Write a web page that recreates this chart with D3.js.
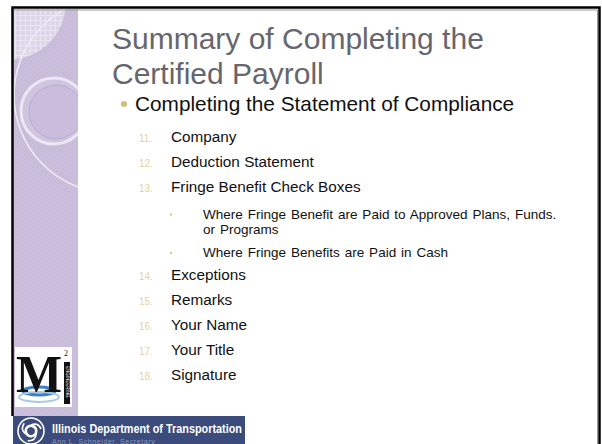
<!DOCTYPE html>
<html>
<head>
<meta charset="utf-8">
<script src="https://cdn.jsdelivr.net/npm/d3@7"></script>
<style>
  body { margin: 0; background: #fff; }
  svg { display: block; font-family: "Liberation Sans", Arial, sans-serif; }
</style>
</head>
<body>
<div id="slide"></div>
<script>
// slide content
const titleLines = ["Summary of Completing the", "Certified Payroll"];
const topBullet = "Completing the Statement of Compliance";
const itemNumbers = ["11.", "12.", "13.", "14.", "15.", "16.", "17.", "18."];
const itemLabels = ["Company", "Deduction Statement", "Fringe Benefit Check Boxes",
  "Exceptions", "Remarks", "Your Name", "Your Title", "Signature"];
// sub bullets hang under item 13, each entry is its wrapped lines
const subBullets = [
  ["Where Fringe Benefit are Paid to Approved Plans, Funds.", "or Programs"],
  ["Where Fringe Benefits are Paid in Cash"]
];
const bannerTitle = "Illinois Department of Transportation";
const bannerSub = "Ann L. Schneider, Secretary";

const W = 602, H = 444;

const svg = d3.select("#slide").append("svg")
  .attr("width", W)
  .attr("height", H);

const defs = svg.append("defs");

// faint checker texture for the side panel
const pat = defs.append("pattern")
  .attr("id", "chk")
  .attr("width", 4).attr("height", 4)
  .attr("patternUnits", "userSpaceOnUse");
pat.append("rect").attr("width", 4).attr("height", 4).attr("fill", "#c7bbd9");
pat.append("rect").attr("width", 2).attr("height", 2).attr("fill", "#cbc0dc");
pat.append("rect").attr("x", 2).attr("y", 2).attr("width", 2).attr("height", 2).attr("fill", "#cbc0dc");

const grid = defs.append("pattern")
  .attr("id", "grid")
  .attr("width", 5).attr("height", 5)
  .attr("patternUnits", "userSpaceOnUse");
grid.append("rect").attr("width", 5).attr("height", 5).attr("fill", "#ddd5e8");
grid.append("path").attr("d", "M0 0.5H5M0.5 0V5")
  .attr("stroke", "#eae5f1").attr("stroke-width", 1);

defs.append("clipPath").attr("id", "panelClip")
  .append("rect").attr("x", 13).attr("y", 9).attr("width", 65).attr("height", 407);

drawPanel();
drawFrame();
drawTitle();
drawList();
drawLogo();
drawBanner();

/**
 * lavender side strip with its circles
 */
function drawPanel() {
  const g = svg.append("g").attr("clip-path", "url(#panelClip)");
  g.append("rect")
    .attr("x", 13).attr("y", 9).attr("width", 65).attr("height", 407)
    .attr("fill", "url(#chk)");
  // textured disc top left
  g.append("circle")
    .attr("cx", 8).attr("cy", 2).attr("r", 58)
    .attr("fill", "url(#grid)");
  // long thin arc
  g.append("circle")
    .attr("cx", 112).attr("cy", 95).attr("r", 98)
    .attr("fill", "none")
    .attr("stroke", "#efeaf5").attr("stroke-width", 1.6);
  // ring
  g.append("circle")
    .attr("cx", 54).attr("cy", 111).attr("r", 33)
    .attr("fill", "#d3c9e2").attr("fill-opacity", 0.6)
    .attr("stroke", "#ece7f3").attr("stroke-width", 3);
  g.append("circle")
    .attr("cx", 56).attr("cy", 112).attr("r", 27)
    .attr("fill", "#c9bddb")
    .attr("stroke", "#b9abd0").attr("stroke-width", 1);
}

function drawFrame() {
  svg.append("path")
    .attr("d", `M12.5 416V7.5H599.5V${H}`)
    .attr("fill", "none")
    .attr("stroke", "#000").attr("stroke-width", 2.5);
  svg.append("path")
    .attr("d", `M14 10H597.5V${H}`)
    .attr("fill", "none")
    .attr("stroke", "#999").attr("stroke-width", 1);
}

function drawTitle() {
  svg.append("g").selectAll("text")
    .data(titleLines)
    .join("text")
    .attr("x", 112)
    .attr("y", (d, i) => 49 + i * 35)
    .attr("font-size", 30)
    .attr("fill", "#66666e")
    .text(d => d);
}

function drawList() {
  const g = svg.append("g");

  g.append("circle")
    .attr("cx", 124).attr("cy", 104).attr("r", 3)
    .attr("fill", "#d1bd7c");
  g.append("text")
    .attr("x", 135).attr("y", 111)
    .attr("font-size", 20.8)
    .attr("fill", "#111")
    .text(topBullet);

  // items 11..13 then a gap for the sub bullets, then 14..18
  const rowY = d3.scaleLinear().domain([0, 1]).range([141.7, 166.7]);
  const itemY = i => i < 3 ? rowY(i) : rowY(i) + 63;

  const rows = g.selectAll("g.item")
    .data(itemLabels.map((t, i) => ({ n: itemNumbers[i], t, i })))
    .join("g").attr("class", "item");
  rows.append("text")
    .attr("x", 139).attr("y", d => itemY(d.i))
    .attr("font-size", 10)
    .attr("fill", "#e5d39c")
    .text(d => d.n);
  rows.append("text")
    .attr("x", 171).attr("y", d => itemY(d.i))
    .attr("font-size", 15.3)
    .attr("fill", "#111")
    .text(d => d.t);

  // sub bullets under item 13
  let y = 218.5;
  subBullets.forEach(lines => {
    g.append("circle")
      .attr("cx", 171).attr("cy", y - 4).attr("r", 1.2)
      .attr("fill", "#d9c78f");
    lines.forEach(line => {
      g.append("text")
        .attr("x", 203).attr("y", y)
        .attr("font-size", 13.5)
        .attr("word-spacing", 1.2)
        .attr("fill", "#111")
        .text(line);
      y += 15;
    });
    y += 8.5;
  });
}

/**
 * M2 engineering badge
 */
function drawLogo() {
  const g = svg.append("g");
  g.append("rect")
    .attr("x", 15).attr("y", 347).attr("width", 57).attr("height", 60)
    .attr("fill", "#fff");
  g.append("ellipse")
    .attr("cx", 39).attr("cy", 391).attr("rx", 16).attr("ry", 4)
    .attr("fill", "none").attr("stroke", "#3d7fc4").attr("stroke-width", 3);
  g.append("ellipse")
    .attr("cx", 39).attr("cy", 397).attr("rx", 20).attr("ry", 5)
    .attr("fill", "none").attr("stroke", "#a9c8e8").attr("stroke-width", 2);
  g.append("text")
    .attr("x", 39).attr("y", 392)
    .attr("text-anchor", "middle")
    .attr("font-family", "Liberation Serif, serif")
    .attr("font-weight", "bold")
    .attr("font-size", 52)
    .attr("textLength", 46)
    .attr("lengthAdjust", "spacingAndGlyphs")
    .attr("fill", "#111")
    .text("M");
  g.append("text")
    .attr("x", 64).attr("y", 356)
    .attr("font-family", "Liberation Serif, serif")
    .attr("font-size", 8)
    .attr("fill", "#111")
    .text("2");
  g.append("rect")
    .attr("x", 64).attr("y", 362).attr("width", 6).attr("height", 42)
    .attr("fill", "#111");
  g.append("text")
    .attr("transform", "translate(66,366) rotate(90)")
    .attr("font-size", 4.5)
    .attr("fill", "#fff")
    .text("ENGINEERING");
}

function drawBanner() {
  const g = svg.append("g");
  g.append("rect")
    .attr("x", 13).attr("y", 416).attr("width", 232).attr("height", H - 416)
    .attr("fill", "#3b4b7b");
  // round IDOT mark
  const cx = 31, cy = 431;
  g.append("circle")
    .attr("cx", cx).attr("cy", cy).attr("r", 13)
    .attr("fill", "none").attr("stroke", "#fff").attr("stroke-width", 1.6);
  const arc = d3.arc().innerRadius(4).outerRadius(6.5);
  d3.range(3).forEach(k => {
    g.append("path")
      .attr("transform", `translate(${cx},${cy}) rotate(${k * 120})`)
      .attr("d", arc({ startAngle: 0.3, endAngle: 2.6 }))
      .attr("fill", "#fff");
    g.append("path")
      .attr("transform", `translate(${cx},${cy}) rotate(${k * 120})`)
      .attr("d", "M0 -6 Q7 -9 10 -2")
      .attr("fill", "none").attr("stroke", "#fff").attr("stroke-width", 1.6);
  });
  g.append("text")
    .attr("x", 52).attr("y", 433)
    .attr("font-size", 12.5)
    .attr("font-weight", "bold")
    .attr("textLength", 190)
    .attr("lengthAdjust", "spacingAndGlyphs")
    .attr("fill", "#fff")
    .text(bannerTitle);
  g.append("text")
    .attr("x", 52).attr("y", 444)
    .attr("font-size", 7)
    .attr("letter-spacing", 0.6)
    .attr("fill", "#8c98bb")
    .text(bannerSub);
}
</script>
</body>
</html>
